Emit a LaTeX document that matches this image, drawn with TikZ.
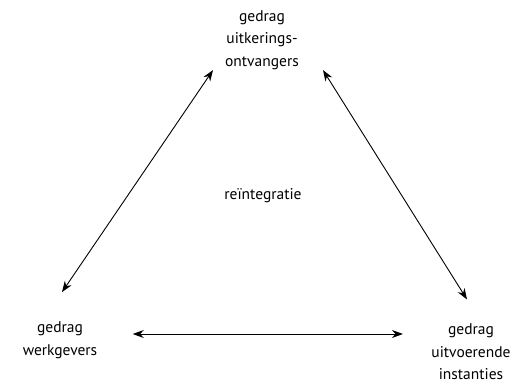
\documentclass[tikz,border=0pt]{standalone}
\usepackage{fontspec}
\setmainfont{PT Sans}
\usetikzlibrary{arrows.meta}
\begin{document}
\begin{tikzpicture}[
    x=1pt, y=-1pt,
    label/.style={
        align=center,
        font=\fontsize{15.5}{22.5}\selectfont,
        text=black
    },
    arr/.style={
        {Stealth[length=11pt,width=8pt]}-{Stealth[length=11pt,width=8pt]},
        line width=0.9pt
    }
]
\useasboundingbox (0,0) rectangle (517,385);

\node[label] (uk) at (262,40) {gedrag\\uitkerings-\\ontvangers};
\node[label] (wg) at (60,340) {gedrag\\werkgevers};
\node[label] (uo) at (471,352) {gedrag\\uitvoerende\\instanties};
\node[label] (re) at (263,196) {reïntegratie};

\draw[arr] ([xshift=2pt,yshift=26pt]wg.north) -- ([xshift=-49pt,yshift=3pt]uk.south);
\draw[arr] ([xshift=61pt,yshift=3pt]uk.south) -- ([xshift=-4pt,yshift=21pt]uo.north);
\draw[arr, shorten <=32pt, shorten >=25pt] ([yshift=6pt]wg.east) -- ([yshift=6pt]wg.east -| uo.west);

\end{tikzpicture}
\end{document}
